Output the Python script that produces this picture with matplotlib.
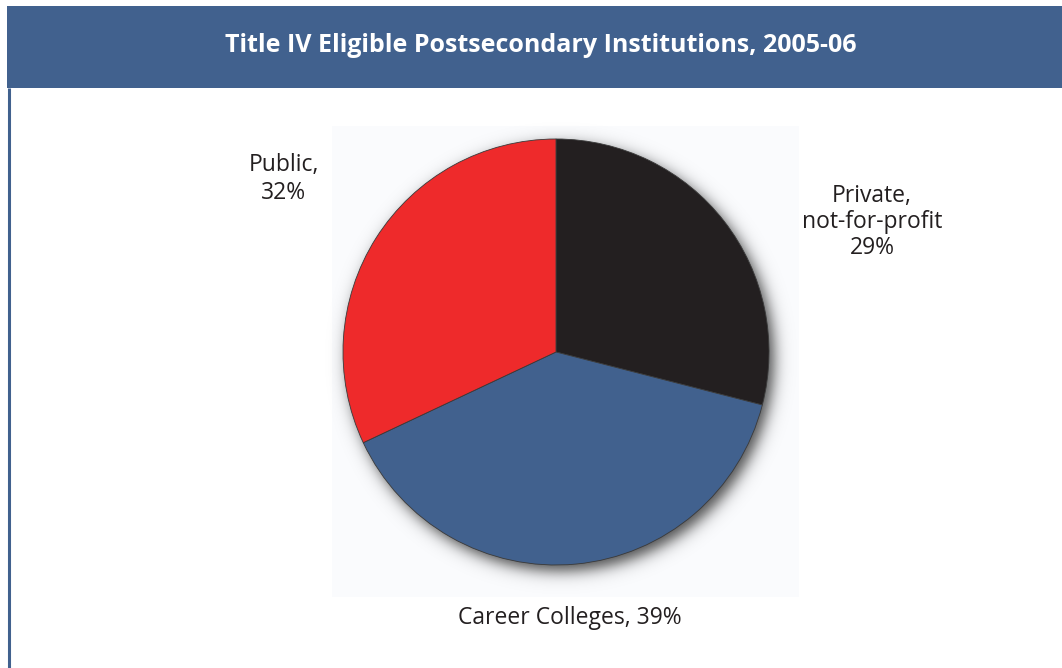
import numpy as np
import matplotlib
matplotlib.use("Agg")
import matplotlib.pyplot as plt
from matplotlib.patches import Rectangle

# institution shares by sector, 2005-06 (percent)
sectors = ["Private, not-for-profit", "Career Colleges", "Public"]
shares = [29, 39, 32]
colors = ["#231F20", "#41618E", "#EE2A2B"]
labels = ["Private,\nnot-for-profit\n29%", "Career Colleges, 39%", "Public,\n32%"]
title = "Title IV Eligible Postsecondary Institutions, 2005-06"

W, H = 1062, 668
plt.rcParams["font.family"] = ["Open Sans", "DejaVu Sans"]

fig = plt.figure(figsize=(W / 100, H / 100), dpi=100)
fig.patch.set_facecolor("white")

# background layer in pixel coordinates
bg = fig.add_axes([0, 0, 1, 1])
bg.set_xlim(0, W)
bg.set_ylim(H, 0)
bg.axis("off")

blue = "#41618E"
bg.add_patch(Rectangle((7, 6), W - 7, 82, facecolor=blue, edgecolor="none"))
bg.plot([8.5, 8.5], [88, H], color=blue, lw=2.2, solid_capstyle="butt")
bg.add_patch(Rectangle((332, 126), 467, 471, facecolor="#FAFBFD", edgecolor="none"))
bg.text(541, 46, title, color="white", fontsize=18, fontweight="bold",
        ha="center", va="center")

# soft drop shadow under the pie
cx, cy, r = 556, 352, 213
x0, x1, y0, y1 = cx - r - 40, cx + r + 40, cy - r - 40, cy + r + 40
xx, yy = np.meshgrid(np.arange(x0, x1) + 0.5, np.arange(y0, y1) + 0.5)
d = np.hypot(xx - (cx + 5), yy - (cy + 6)) - r
a = 0.7 / (1 + np.exp(d / 4.5))
shadow = np.zeros(xx.shape + (4,))
shadow[..., 3] = a
bg.imshow(shadow, extent=(x0, x1, y1, y0), interpolation="bilinear", zorder=1)
bg.set_xlim(0, W)
bg.set_ylim(H, 0)

# pie
ax = fig.add_axes([(cx - r) / W, (H - cy - r) / H, 2 * r / W, 2 * r / H])
ax.pie(shares, colors=colors, startangle=90, counterclock=False,
       wedgeprops=dict(edgecolor="#3a3a3a", linewidth=0.6))
ax.set_xlim(-1, 1)
ax.set_ylim(-1, 1)
ax.set_aspect("auto")
ax.axis("off")

lab_kw = dict(color="#231F20", fontsize=16.5, ha="center", va="center")
bg.text(872, 222, labels[0], linespacing=1.12, **lab_kw)
bg.text(570, 618, labels[1], **lab_kw)
bg.text(284, 179, labels[2], linespacing=1.27, **lab_kw)

fig.savefig("out.png", dpi=100, facecolor="white")
